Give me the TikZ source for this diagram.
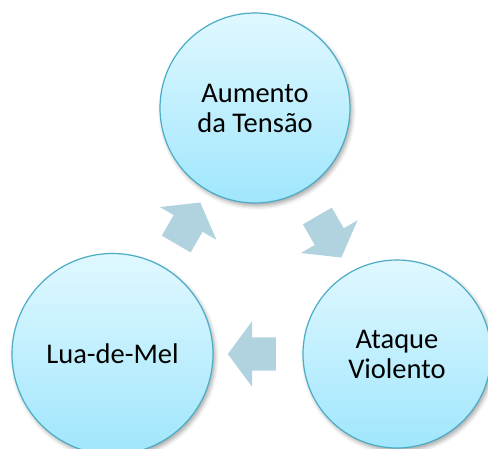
\documentclass[tikz,border=0pt]{standalone}
\usepackage{fontspec}
\setmainfont{Carlito}
\usetikzlibrary{shapes.arrows,shadows.blur}

\definecolor{ringline}{RGB}{75,172,198}
\definecolor{ringtop}{RGB}{224,248,255}
\definecolor{ringbottom}{RGB}{160,230,252}
\definecolor{arrowfill}{RGB}{177,211,224}

\begin{document}
\begin{tikzpicture}[x=1pt,y=-1pt,
  phase/.style={circle,draw=ringline,line width=1.2pt,top color=ringtop,bottom color=ringbottom,
    align=center,font=\fontsize{28.5}{30}\selectfont,inner sep=0pt,
    blur shadow={shadow xshift=2pt,shadow yshift=-3pt,shadow blur radius=4pt,shadow opacity=35}},
  cyclearrow/.style={single arrow,fill=arrowfill,inner xsep=0pt,inner ysep=16.5pt,
    minimum height=48pt,minimum width=0pt,single arrow head extend=16pt,
    single arrow tip angle=107,sloped,allow upside down}]

\useasboundingbox (0,0) rectangle (488,448);


% 1
\node[phase,minimum size=190pt] (PhaseA) at (255,108) {Aumento\\da Tensão};
\node[phase,minimum size=188pt] (PhaseB) at (397,354) {Ataque\\Violento};
\node[phase,minimum size=201pt] (PhaseC) at (112.5,354) {Lua-de-Mel};


% 2
\path (PhaseC) -- node[cyclearrow] (ArrowCA) {} (PhaseA);
\path (PhaseA) -- node[cyclearrow] (ArrowAB) {} (PhaseB);
\path (PhaseB) -- node[cyclearrow] (ArrowBC) {} (PhaseC);

\end{tikzpicture}
\end{document}
